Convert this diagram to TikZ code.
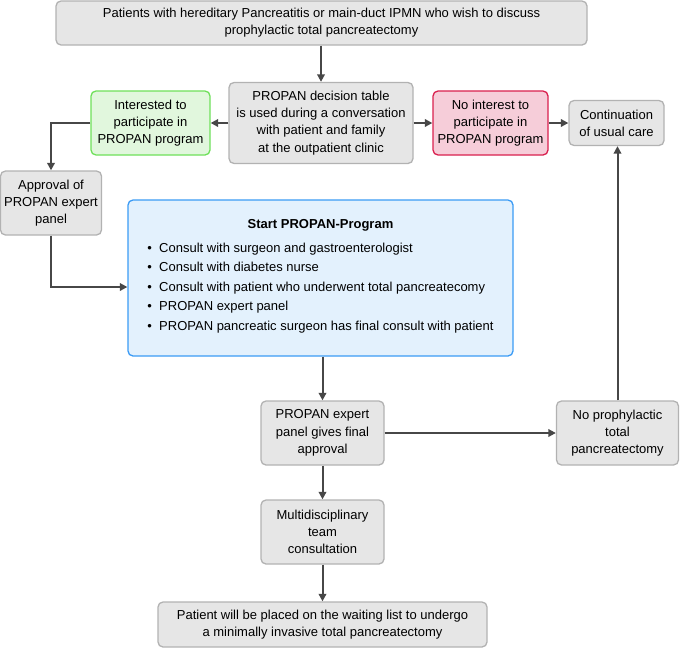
\documentclass[tikz,border=0pt]{standalone}
\usepackage{fontspec}
\setmainfont{Liberation Sans}
\usetikzlibrary{arrows.meta}

\definecolor{boxfill}{HTML}{E6E6E6}
\definecolor{boxline}{HTML}{B2B2B2}
\definecolor{greenfill}{HTML}{E1F7DD}
\definecolor{greenline}{HTML}{6EE05A}
\definecolor{redfill}{HTML}{F6CDD9}
\definecolor{redline}{HTML}{D9204E}
\definecolor{bluefill}{HTML}{E3F1FD}
\definecolor{blueline}{HTML}{3B9BF5}
\definecolor{arrowcol}{HTML}{474747}

\tikzset{
    box/.style={draw=boxline, fill=boxfill, line width=1.3pt, rounded corners=5pt,
        align=center, inner sep=0pt},
    greenbox/.style={box, draw=greenline, fill=greenfill},
    redbox/.style={box, draw=redline, fill=redfill},
    bluebox/.style={box, draw=blueline, fill=bluefill},
    arr/.style={draw=arrowcol, line width=2pt, -{Triangle[length=7.5pt,width=7.5pt]}}
}

\begin{document}
\begin{tikzpicture}[x=1pt, y=-1pt, font=\fontsize{13}{17.2}\selectfont]
    \useasboundingbox (0,0) rectangle (680,648);

    % Patients (top)
    \node[box, minimum width=531pt, minimum height=44pt] (patients) at (321.5,23)
        {Patients with hereditary Pancreatitis or main-duct IPMN who wish to discuss\\prophylactic total pancreatectomy};

    % Decision table
    \node[box, minimum width=184pt, minimum height=81pt] (decision) at (321,123)
        {PROPAN decision table\\is used during a conversation\\with patient and family\\at the outpatient clinic};

    % Interested (Green)
    \node[greenbox, minimum width=119pt, minimum height=64pt] (interested) at (150.5,123)
        {Interested to\\participate in\\PROPAN program};

    % No interest (Red)
    \node[redbox, minimum width=115pt, minimum height=64pt] (nointerest) at (490.5,123)
        {No interest to\\participate in\\PROPAN program};

    % Usual care
    \node[box, minimum width=95pt, minimum height=45pt] (usualcare) at (616.5,123)
        {Continuation\\of usual care};

    % Approval expert panel
    \node[box, minimum width=101pt, minimum height=64pt] (approval) at (51,203)
        {Approval of\\PROPAN expert\\panel};

    % Start program (Blue)
    \node[bluebox, minimum width=385pt, minimum height=156pt] (program) at (320.5,278)
        {\textbf{Start PROPAN-Program}\\[6pt]
        \renewcommand{\arraystretch}{1.14}%
        \begin{tabular}{@{}l@{}}
            \textbullet\ \ Consult with surgeon and gastroenterologist\\
            \textbullet\ \ Consult with diabetes nurse\\
            \textbullet\ \ Consult with patient who underwent total pancreatecomy\\
            \textbullet\ \ PROPAN expert panel\\
            \textbullet\ \ PROPAN pancreatic surgeon has final consult with patient
        \end{tabular}};

    % Final approval
    \node[box, minimum width=123pt, minimum height=64pt] (finalok) at (322.5,433)
        {PROPAN expert\\panel gives final\\approval};

    % No prophylactic
    \node[box, minimum width=122pt, minimum height=64pt] (noprophy) at (617.5,433)
        {No prophylactic\\total\\pancreatectomy};

    % Multidisciplinary
    \node[box, minimum width=123pt, minimum height=64pt] (mdt) at (322.5,532)
        {Multidisciplinary\\team\\consultation};

    % Waiting list (bottom)
    \node[box, minimum width=329pt, minimum height=45pt] (waiting) at (322.5,624.5)
        {Patient will be placed on the waiting list to undergo\\a minimally invasive total pancreatectomy};

    % Connectors
    \draw[arr] (patients.south -| decision) -- (decision.north);
    \draw[arr] (decision.west) -- (interested.east);
    \draw[arr] (decision.east) -- (nointerest.west);
    \draw[arr] (nointerest.east) -- (usualcare.west);
    \draw[arr] (interested.west) -| (approval.north);
    \draw[arr] (approval.south) |- ([yshift=-9pt]program.west);
    \draw[arr] (program.south -| finalok) -- (finalok.north);
    \draw[arr] (finalok.east) -- (noprophy.west);
    \draw[arr] (noprophy.north) -- (noprophy.north |- usualcare.south);
    \draw[arr] (finalok.south) -- (mdt.north);
    \draw[arr] (mdt.south) -- (waiting.north);
\end{tikzpicture}
\end{document}
